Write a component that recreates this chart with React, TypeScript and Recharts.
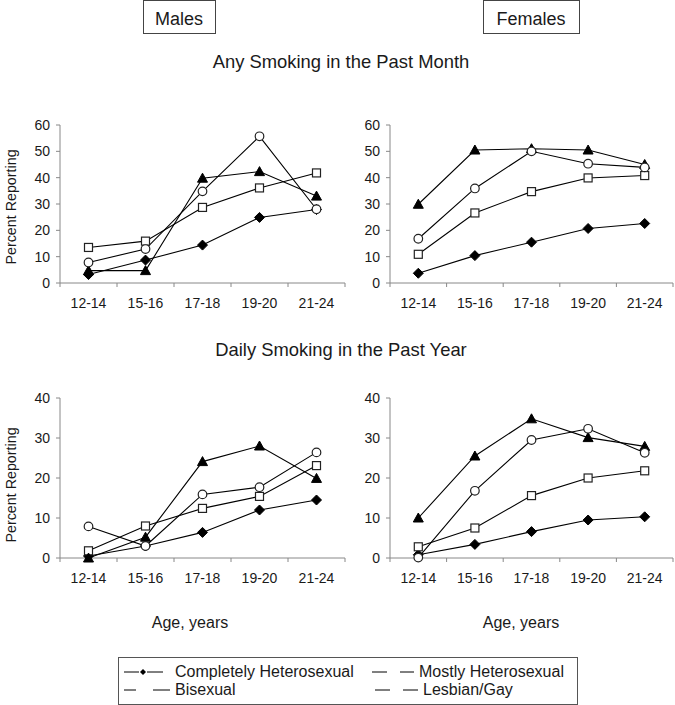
import React from 'react';
import { LineChart, Line, XAxis, YAxis } from 'recharts';

const ages = ['12-14', '15-16', '17-18', '19-20', '21-24'];
const seriesNames = ['Completely Heterosexual', 'Mostly Heterosexual', 'Bisexual', 'Lesbian/Gay'];

const maleMonthHet = [3.2, 8.7, 14.4, 24.9, 27.9];
const maleMonthMostly = [13.5, 15.9, 28.7, 36.1, 41.8];
const maleMonthBi = [4.7, 4.7, 39.8, 42.3, 33];
const maleMonthGay = [7.8, 12.9, 34.8, 55.7, 28];

const femaleMonthHet = [3.7, 10.4, 15.5, 20.7, 22.6];
const femaleMonthMostly = [10.9, 26.6, 34.7, 39.9, 40.8];
const femaleMonthBi = [29.9, 50.5, 51, 50.5, 45];
const femaleMonthLes = [16.8, 35.9, 50, 45.3, 43.9];

const maleDailyHet = [0.5, 3, 6.4, 12, 14.5];
const maleDailyMostly = [1.8, 8, 12.4, 15.4, 23.1];
const maleDailyBi = [0, 5.2, 24.1, 28, 19.9];
const maleDailyGay = [7.9, 3, 15.9, 17.7, 26.4];

const femaleDailyHet = [0.8, 3.4, 6.6, 9.5, 10.3];
const femaleDailyMostly = [2.8, 7.5, 15.6, 20, 21.8];
const femaleDailyBi = [10, 25.5, 34.8, 30.1, 27.9];
const femaleDailyLes = [0.1, 16.8, 29.5, 32.3, 26.3];

const monthTicks = [0, 10, 20, 30, 40, 50, 60];
const dailyTicks = [0, 10, 20, 30, 40];

const FONT = '"Liberation Sans", Arial, Helvetica, sans-serif';
const AXIS = '#888';
const INK = '#1a1a1a';

function buildData(het: number[], mostly: number[], bi: number[], gay: number[]) {
  return ages.map((a, i) => ({ x: i + 0.5, age: a, het: het[i], mostly: mostly[i], bi: bi[i], gay: gay[i] }));
}

const xTicks: number[] = [];
for (let i = 0; i <= ages.length; i++) {
  xTicks.push(i);
  if (i < ages.length) xTicks.push(i + 0.5);
}

const XTick = (props: any) => {
  const { x, y, payload } = props;
  const v = payload.value;
  if (Number.isInteger(v)) {
    return <line x1={x} y1={y} x2={x} y2={y + 4} stroke={AXIS} strokeWidth={1} />;
  }
  return (
    <text x={x} y={y + 25} textAnchor="middle" fontSize={14} fill={INK} fontFamily={FONT}>
      {ages[Math.floor(v)]}
    </text>
  );
};

const Diamond = (props: any) => {
  const { cx, cy } = props;
  if (cx == null || cy == null) return null;
  const r = 5;
  return <path d={`M${cx},${cy - r}L${cx + r},${cy}L${cx},${cy + r}L${cx - r},${cy}Z`} fill="#000" stroke="#000" />;
};
const Square = (props: any) => {
  const { cx, cy } = props;
  if (cx == null || cy == null) return null;
  const r = 4;
  return <rect x={cx - r} y={cy - r} width={2 * r} height={2 * r} fill="#fff" stroke="#222" strokeWidth={1.2} />;
};
const Triangle = (props: any) => {
  const { cx, cy } = props;
  if (cx == null || cy == null) return null;
  return <path d={`M${cx},${cy - 5}L${cx + 5},${cy + 4}L${cx - 5},${cy + 4}Z`} fill="#000" stroke="#000" />;
};
const Circle = (props: any) => {
  const { cx, cy } = props;
  if (cx == null || cy == null) return null;
  return <circle cx={cx} cy={cy} r={4.3} fill="#fff" stroke="#222" strokeWidth={1.2} />;
};

type PanelProps = {
  data: any[];
  yMax: number;
  yTicks: number[];
  width: number;
  height: number;
  right: number;
};

const Panel = ({ data, yMax, yTicks, width, height, right }: PanelProps) => (
  <LineChart width={width} height={height} data={data} margin={{ top: 10, right, bottom: 0, left: 0 }}>
    <XAxis
      type="number"
      dataKey="x"
      domain={[0, ages.length]}
      ticks={xTicks}
      interval={0}
      tickLine={false}
      tickSize={0}
      tickMargin={0}
      height={32}
      stroke={AXIS}
      tick={<XTick />}
    />
    <YAxis
      type="number"
      domain={[0, yMax]}
      ticks={yTicks}
      interval={0}
      tickSize={4}
      tickMargin={6}
      width={60}
      stroke={AXIS}
      tick={{ fontSize: 14, fill: INK, fontFamily: FONT }}
    />
    <Line dataKey="het" name={seriesNames[0]} stroke="#000" strokeWidth={1.1} dot={<Diamond />} isAnimationActive={false} />
    <Line dataKey="mostly" name={seriesNames[1]} stroke="#000" strokeWidth={1.1} dot={<Square />} isAnimationActive={false} />
    <Line dataKey="bi" name={seriesNames[2]} stroke="#000" strokeWidth={1.1} dot={<Triangle />} isAnimationActive={false} />
    <Line dataKey="gay" name={seriesNames[3]} stroke="#000" strokeWidth={1.1} dot={<Circle />} isAnimationActive={false} />
  </LineChart>
);

export default function App() {
  const tl = buildData(maleMonthHet, maleMonthMostly, maleMonthBi, maleMonthGay);
  const tr = buildData(femaleMonthHet, femaleMonthMostly, femaleMonthBi, femaleMonthLes);
  const bl = buildData(maleDailyHet, maleDailyMostly, maleDailyBi, maleDailyGay);
  const br = buildData(femaleDailyHet, femaleDailyMostly, femaleDailyBi, femaleDailyLes);
  const t = { fontFamily: FONT, fill: INK } as any;
  return (
    <div style={{ position: 'absolute', left: 0, top: 0, width: 675, height: 705, background: '#fff', overflow: 'hidden' }}>
      <div style={{ position: 'absolute', left: 0, top: 115 }}>
        <Panel data={tl} yMax={60} yTicks={monthTicks} width={350} height={200} right={5} />
      </div>
      <div style={{ position: 'absolute', left: 330, top: 115 }}>
        <Panel data={tr} yMax={60} yTicks={monthTicks} width={345} height={200} right={2} />
      </div>
      <div style={{ position: 'absolute', left: 0, top: 388 }}>
        <Panel data={bl} yMax={40} yTicks={dailyTicks} width={350} height={202} right={5} />
      </div>
      <div style={{ position: 'absolute', left: 330, top: 388 }}>
        <Panel data={br} yMax={40} yTicks={dailyTicks} width={345} height={202} right={2} />
      </div>
      <svg width={675} height={705} style={{ position: 'absolute', left: 0, top: 0, pointerEvents: 'none' }}>
        <rect x={143.5} y={0.5} width={72} height={33} fill="none" stroke="#444" />
        <text x={179} y={25} textAnchor="middle" fontSize={18} {...t}>Males</text>
        <rect x={483.5} y={0.5} width={96} height={33} fill="none" stroke="#444" />
        <text x={531} y={25} textAnchor="middle" fontSize={18} {...t}>Females</text>

        <text x={341} y={68} textAnchor="middle" fontSize={18.4} {...t}>Any Smoking in the Past Month</text>
        <text x={341} y={356} textAnchor="middle" fontSize={18.4} {...t}>Daily Smoking in the Past Year</text>

        <text x={0} y={0} transform="translate(16,207) rotate(-90)" textAnchor="middle" fontSize={14.3} {...t}>Percent Reporting</text>
        <text x={0} y={0} transform="translate(16,485) rotate(-90)" textAnchor="middle" fontSize={14.3} {...t}>Percent Reporting</text>

        <text x={190} y={628} textAnchor="middle" fontSize={16} {...t}>Age, years</text>
        <text x={521} y={628} textAnchor="middle" fontSize={16} {...t}>Age, years</text>

        <rect x={118.5} y={657.5} width={459} height={47} fill="none" stroke="#555" />
        <line x1={124} y1={672} x2={139} y2={672} stroke="#000" />
        <path d="M143,669L146,672L143,675L140,672Z" fill="#000" />
        <line x1={147} y1={672} x2={163} y2={672} stroke="#000" />
        <text x={175} y={677} fontSize={16} {...t}>{seriesNames[0]}</text>
        <line x1={372} y1={672} x2={387} y2={672} stroke="#000" />
        <line x1={400} y1={672} x2={414} y2={672} stroke="#000" />
        <text x={419} y={677} fontSize={16} {...t}>{seriesNames[1]}</text>
        <line x1={124} y1={690} x2={136} y2={690} stroke="#000" />
        <line x1={153} y1={690} x2={170} y2={690} stroke="#000" />
        <text x={175} y={695} fontSize={16} {...t}>{seriesNames[2]}</text>
        <line x1={375} y1={690} x2={390} y2={690} stroke="#000" />
        <line x1={403} y1={690} x2={418} y2={690} stroke="#000" />
        <text x={423} y={695} fontSize={16} {...t}>{seriesNames[3]}</text>
      </svg>
    </div>
  );
}
